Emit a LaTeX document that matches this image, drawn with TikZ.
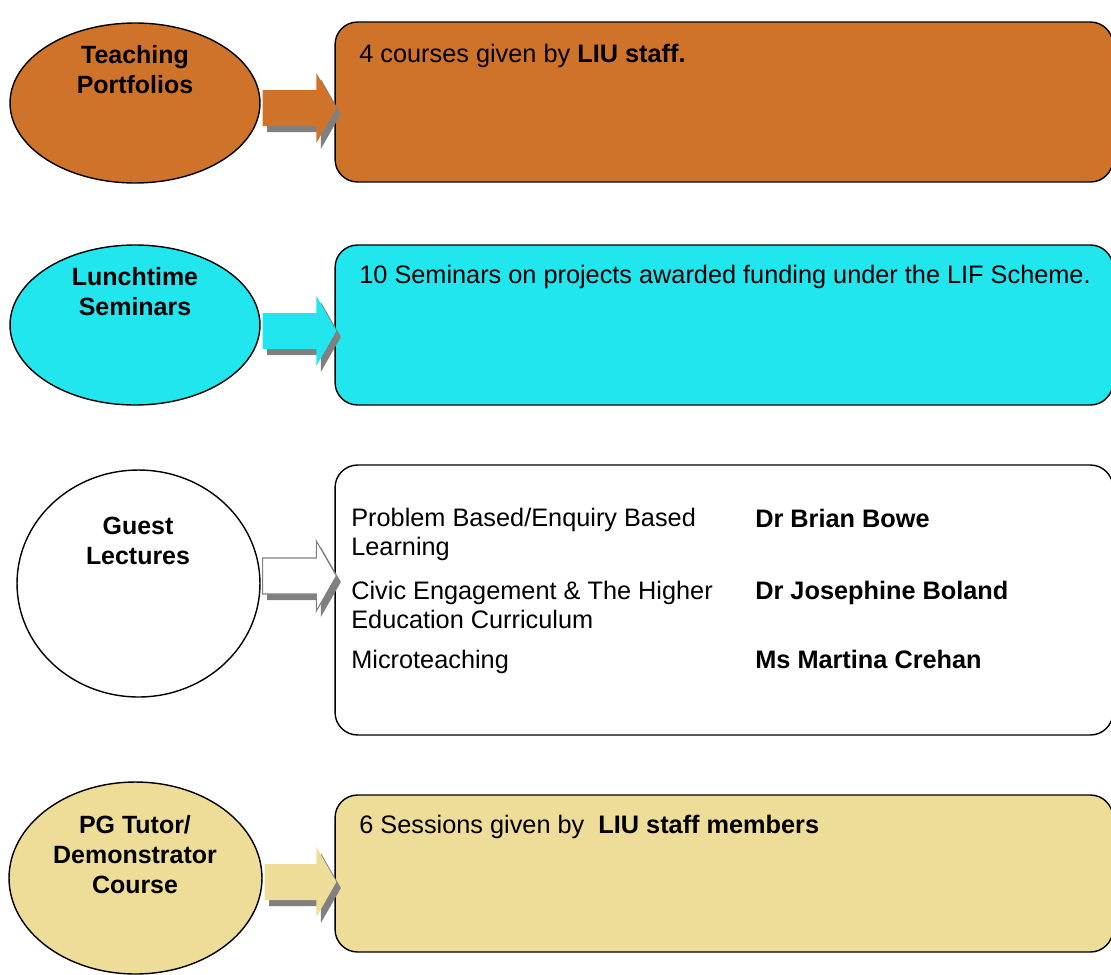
\documentclass[tikz,border=0pt]{standalone}
\usepackage{fontspec}
\setmainfont{Liberation Sans}
\usetikzlibrary{calc,shapes.geometric}

\definecolor{tporange}{RGB}{208,115,42}
\definecolor{lscyan}{RGB}{34,230,238}
\definecolor{pgtan}{RGB}{238,220,153}
\definecolor{shadegray}{RGB}{128,128,128}

\tikzset{
  topic/.style={draw, ellipse, line width=0.8pt, inner sep=0pt},
  infobox/.style={draw, rectangle, rounded corners=0.45cm, line width=0.8pt,
    minimum width=15.56cm, inner sep=0pt},
  topictext/.style={align=center, inner sep=0pt, anchor=base,
    font=\fontsize{14.2}{16.8}\selectfont\bfseries},
  boxtext/.style={align=left, inner sep=0pt, anchor=base west,
    font=\fontsize{14.4}{16}\selectfont},
  speaker/.style={boxtext, font=\fontsize{14.4}{16}\selectfont\bfseries},
  shaded arrow/.style={preaction={fill=shadegray,
    transform canvas={shift={(0.09cm,-0.12cm)}}}},
}

% block arrow from an ellipse to its box: #1 start, #2 end, #3 height of tip, #4 looks
\newcommand{\blockarrow}[4]{%
  \path (#1.east |- 0,#3) coordinate (arrow-s) (#2.west |- 0,#3) coordinate (arrow-t);
  \path[shaded arrow, #4] ($(arrow-s)+(2,-18)$) -- ($(arrow-t)+(-18,-18)$)
    -- ($(arrow-t)+(-18,-35)$) -- ($(arrow-t)+(2,0)$) -- ($(arrow-t)+(-18,35)$)
    -- ($(arrow-t)+(-18,18)$) -- ($(arrow-s)+(2,18)$) -- cycle;
}

\begin{document}
\begin{tikzpicture}[x=0.02cm, y=-0.02cm]
    \useasboundingbox (0,0) rectangle (1111,974);

    % Ellipses on the left
    \node[topic, fill=tporange, minimum width=5cm, minimum height=3.2cm] (tp) at (135,103) {};
    \node[topic, fill=lscyan, minimum width=5cm, minimum height=3.2cm] (ls) at (135,325) {};
    \node[topic, fill=white, minimum width=4.86cm, minimum height=4.54cm] (gl) at (138.5,583.5) {};
    \node[topic, fill=pgtan, minimum width=5.06cm, minimum height=3.84cm] (pg) at (135.5,878) {};

    % (base is the last line)
    \node[topictext] (tplabel) at (135,93) {Teaching\\Portfolios};
    \node[topictext] (lslabel) at (135,315) {Lunchtime\\Seminars};
    \node[topictext] (gllabel) at (138,564) {Guest\\Lectures};
    \node[topictext] (pglabel) at (135,893) {PG Tutor/\\Demonstrator\\Course};

    % Boxes on the right
    \node[infobox, fill=tporange, minimum height=3.2cm] (tpbox) at (724,102) {};
    \node[infobox, fill=lscyan, minimum height=3.2cm] (lsbox) at (724,325) {};
    \node[infobox, fill=white, minimum height=5.4cm] (glbox) at (724,600) {};
    \node[infobox, fill=pgtan, minimum height=3.14cm] (pgbox) at (724,873.5) {};

    \node[boxtext] (tptext) at (359,62) {4 courses given by \textbf{LIU staff.}};
    \node[boxtext] (lstext) at (359,283) {10 Seminars on projects awarded funding under the LIF Scheme.};
    \node[boxtext] (pgtext) at (359,833) {6 Sessions given by\ \ \textbf{LIU staff members}};

    % Guest lectures and speakers
    \node[boxtext] (pbl) at (351,555) {Problem Based/Enquiry Based\\Learning};
    \node[boxtext] (civic) at (351,628) {Civic Engagement \& The Higher\\Education Curriculum};
    \node[boxtext] (micro) at (351,668) {Microteaching};
    \node[speaker] (bowe) at (755,527) {Dr Brian Bowe};
    \node[speaker] (boland) at (755,599) {Dr Josephine Boland};
    \node[speaker] (crehan) at (755,668) {Ms Martina Crehan};

    % Arrows
    \blockarrow{tp}{tpbox}{108}{fill=tporange}
    \blockarrow{ls}{lsbox}{331}{fill=lscyan}
    \blockarrow{gl}{glbox}{576}{fill=white, draw=shadegray, line width=0.6pt}
    \blockarrow{pg}{pgbox}{882}{fill=pgtan}

\end{tikzpicture}
\end{document}
